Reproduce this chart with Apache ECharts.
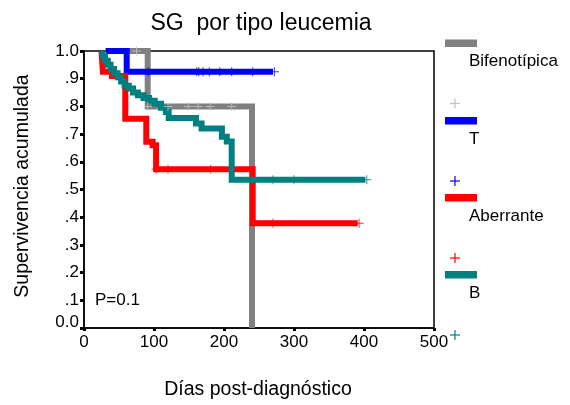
<!DOCTYPE html>
<html>
<head>
<meta charset="utf-8">
<script src="https://cdn.jsdelivr.net/npm/echarts@6/dist/echarts.min.js"></script>
<style>
  html, body { margin: 0; padding: 0; background: #fff; }
  #chart { width: 570px; height: 405px; }
</style>
</head>
<body>
<div id="chart"></div>
<script>
// Kaplan-Meier survival by leukaemia type: step curves and censored cases.
const chartTitle = 'SG  por tipo leucemia';
const xTitle = 'Días post-diagnóstico';
const yTitle = 'Supervivencia acumulada';
const pText = 'P=0.1';

const groupNames = ['Bifenotípica', 'T', 'Aberrante', 'B'];
const groupColors = ['#808080', '#0000ff', '#ff0000', '#008080'];
const censorColors = ['#c4c4c4', '#0000ff', '#ff0000', '#008080'];

const xTicks = [0, 100, 200, 300, 400, 500];
const yTickLabels = ['0.0', '.1', '.2', '.3', '.4', '.5', '.6', '.7', '.8', '.9', '1.0'];

// Survival step curves (day, cumulative survival after the event)
const bifenoDias = [31, 91, 240];
const bifenoSup = [1.0, 0.80, 0.0];

const tDias = [31, 61, 270];
const tSup = [1.0, 0.925, 0.925];

const aberDias = [25, 27, 40, 59, 89, 98, 103, 241, 391];
const aberSup = [1.0, 0.925, 0.91, 0.755, 0.672, 0.66, 0.573, 0.378, 0.378];

const bDias = [25, 27, 30, 34, 38, 43, 48, 53, 58, 64, 70, 77, 85, 93, 101, 110, 117, 121, 160, 168, 197, 204, 211, 402];
const bSup = [1.0, 0.98, 0.965, 0.95, 0.935, 0.92, 0.905, 0.89, 0.875, 0.865, 0.85, 0.84, 0.83, 0.82, 0.81, 0.795, 0.78, 0.758, 0.738, 0.72, 0.69, 0.673, 0.535, 0.535];

// Censored observations
const bifenoCensDias = [75, 91, 120, 149, 163, 180, 211];
const bifenoCensSup = [1.0, 0.80, 0.80, 0.80, 0.80, 0.80, 0.80];

const tCensDias = [92, 161, 164, 170, 179, 194, 211, 241, 272];
const tCensSup = [0.925, 0.925, 0.925, 0.925, 0.925, 0.925, 0.925, 0.925, 0.925];

const aberCensDias = [103, 120, 181, 270, 393];
const aberCensSup = [0.573, 0.573, 0.573, 0.378, 0.378];

const bCensDias = [270, 300, 404];
const bCensSup = [0.535, 0.535, 0.535];

const curves = [
  [bifenoDias, bifenoSup],
  [tDias, tSup],
  [aberDias, aberSup],
  [bDias, bSup]
];
const censored = [
  [bifenoCensDias, bifenoCensSup],
  [tCensDias, tCensSup],
  [aberCensDias, aberCensSup],
  [bCensDias, bCensSup]
];

const zip = (xs, ys) => xs.map((x, i) => [x, ys[i]]);
const plusPath = 'path://M4,0H5V4H9V5H5V9H4V5H0V4H4Z';
const font = '"Liberation Sans", Arial, sans-serif';

const series = [];
curves.forEach((c, i) => {
  series.push({
    name: groupNames[i],
    type: 'line',
    step: 'end',
    data: zip(c[0], c[1]),
    showSymbol: false,
    symbol: 'none',
    lineStyle: { color: groupColors[i], width: 6, cap: 'butt', join: 'miter' },
    z: 2 + i,
    silent: true,
    animation: false
  });
});
censored.forEach((c, i) => {
  series.push({
    name: groupNames[i] + ' +',
    type: 'scatter',
    data: zip(c[0], c[1]),
    symbol: plusPath,
    symbolSize: 9,
    itemStyle: { color: censorColors[i] },
    z: 10,
    silent: true,
    animation: false
  });
});

// Legend: colour bar, name below it, then the censor mark
const legendTop = [39.5, 117, 194, 271];
const legendItems = [];
groupNames.forEach((name, i) => {
  const top = legendTop[i];
  legendItems.push({
    type: 'rect',
    shape: { x: 445, y: top, width: 32, height: 7.5 },
    style: { fill: groupColors[i] }
  });
  legendItems.push({
    type: 'text',
    x: 469, y: top + 22,
    style: { text: name, font: '17px ' + font, fill: '#000', textAlign: 'left', textVerticalAlign: 'middle' }
  });
  const cx = 455, cy = top + 64;
  legendItems.push({
    type: 'rect',
    shape: { x: cx - 5, y: cy - 0.6, width: 10, height: 1.2 },
    style: { fill: censorColors[i] }
  });
  legendItems.push({
    type: 'rect',
    shape: { x: cx - 0.6, y: cy - 5, width: 1.2, height: 10 },
    style: { fill: censorColors[i] }
  });
});

const chart = echarts.init(document.getElementById('chart'), null, { renderer: 'canvas' });
chart.setOption({
  backgroundColor: '#fff',
  animation: false,
  title: {
    text: chartTitle,
    left: 256,
    top: 7,
    textAlign: 'center',
    textStyle: { fontFamily: font, fontSize: 23, fontWeight: 'normal', color: '#000' }
  },
  grid: {
    left: 84, top: 51, right: 136, bottom: 77,
    show: true, borderColor: '#000', borderWidth: 1.5,
    containLabel: false,
    outerBoundsMode: 'none'
  },
  xAxis: {
    type: 'value',
    min: 0, max: 500, interval: 100,
    axisLine: { show: true, onZero: false, lineStyle: { color: '#000', width: 1.5 } },
    axisTick: { show: true, length: 3, lineStyle: { color: '#000', width: 3 } },
    axisLabel: {
      margin: 6, color: '#000', fontFamily: font, fontSize: 17,
      formatter: v => (xTicks.indexOf(v) >= 0 ? String(v) : '')
    },
    splitLine: { show: false }
  },
  yAxis: {
    type: 'value',
    min: 0, max: 1, interval: 0.1,
    axisLine: { show: true, onZero: false, lineStyle: { color: '#000', width: 1.5 } },
    axisTick: { show: true, length: 4, lineStyle: { color: '#000', width: 3 } },
    axisLabel: {
      margin: 5, color: '#000', fontFamily: font, fontSize: 17,
      formatter: v => {
        const idx = Math.round(v * 10);
        const s = yTickLabels[idx];
        return idx === 0 ? '{z|' + s + '}' : s;
      },
      rich: { z: { fontFamily: font, fontSize: 17, color: '#000', padding: [0, 0, 12, 0] } }
    },
    splitLine: { show: false }
  },
  graphic: [
    {
      type: 'text', x: 23, y: 186, rotation: Math.PI / 2,
      style: { text: yTitle, font: '19.5px ' + font, fill: '#000', textAlign: 'center', textVerticalAlign: 'middle' }
    },
    {
      type: 'text', x: 258, y: 390,
      style: { text: xTitle, font: '19.5px ' + font, fill: '#000', textAlign: 'center', textVerticalAlign: 'middle' }
    },
    {
      type: 'text', x: 95, y: 300,
      style: { text: pText, font: '17px ' + font, fill: '#000', textAlign: 'left', textVerticalAlign: 'middle' }
    }
  ].concat(legendItems),
  series: series
});
</script>
</body>
</html>
